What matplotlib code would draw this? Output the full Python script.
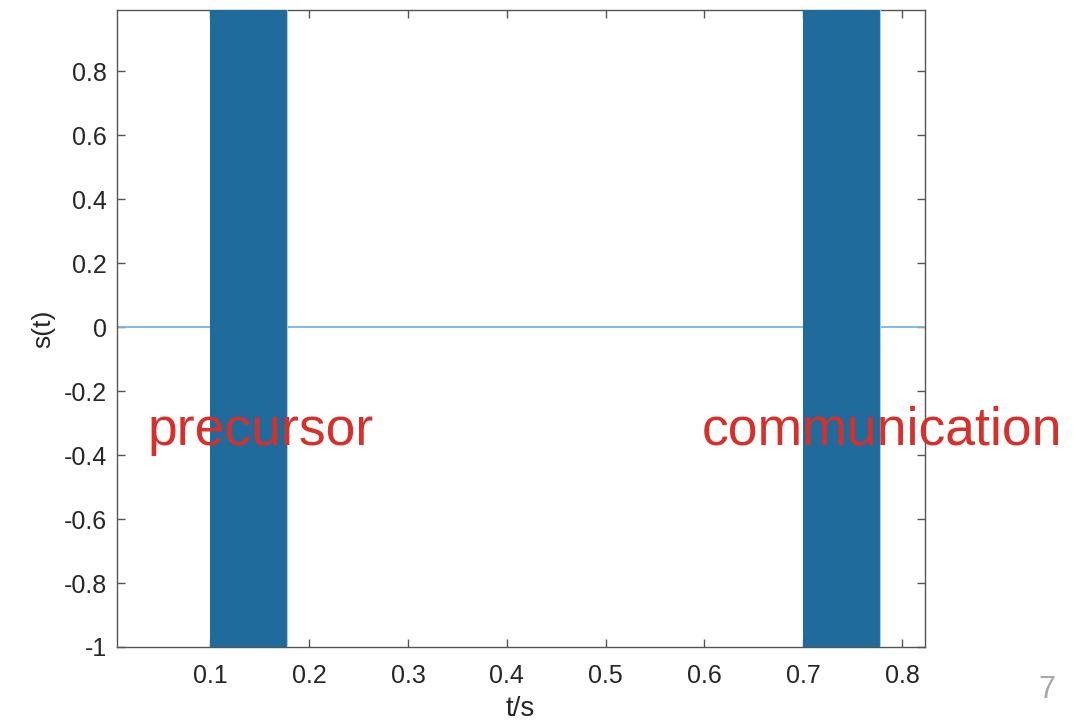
import matplotlib
matplotlib.use("Agg")
import matplotlib.pyplot as plt

plt.rcParams['font.family'] = ['Liberation Sans', 'DejaVu Sans']
plt.rcParams['axes.unicode_minus'] = False

# signal span and bursts
t_span = [0.005, 0.823]
burst_start = [0.1, 0.7]
burst_end = [0.178, 0.778]
burst_amp = [1.0, 1.0]

burst_names = ["precursor", "communication"]
name_x = [0.036, 0.597]
name_y = [-0.368, -0.368]

x_ticks = [0.1, 0.2, 0.3, 0.4, 0.5, 0.6, 0.7, 0.8]
x_ticklabels = ["0.1", "0.2", "0.3", "0.4", "0.5", "0.6", "0.7", "0.8"]
y_ticks = [-1, -0.8, -0.6, -0.4, -0.2, 0, 0.2, 0.4, 0.6, 0.8]
y_ticklabels = ["-1", "-0.8", "-0.6", "-0.4", "-0.2", "0", "0.2", "0.4", "0.6", "0.8"]
page_no = "7"

fig = plt.figure(figsize=(10.74, 7.22), dpi=100)
ax = fig.add_axes([0.1085, 0.1039, 0.7526, 0.8816])

# flat part of the signal
ax.plot(t_span, [0, 0], color='#7fb3dd', lw=1.3, zorder=2)

# dense oscillation bursts drawn as filled envelopes
for s, e, a in zip(burst_start, burst_end, burst_amp):
    ax.fill_between([s, e], [-a, -a], [a, a], color='#1f6b9c', lw=0, zorder=3)
    ax.plot([e, e], [-a, a], color='#a9c9e6', lw=0.8, zorder=3)

for name, x, y in zip(burst_names, name_x, name_y):
    ax.text(x, y, name, color='#d7302b', fontsize=38.5, ha='left', va='baseline',
            zorder=5, clip_on=False)

ax.set_xlim(t_span)
ax.set_ylim(-1, 0.99)
ax.set_xticks(x_ticks)
ax.set_xticklabels(x_ticklabels)
ax.set_yticks(y_ticks)
ax.set_yticklabels(y_ticklabels)

ax.tick_params(direction='in', length=6, width=1, colors='#555555',
               labelcolor='#262626', labelsize=18, top=True, right=True)
ax.tick_params(axis='x', pad=12)
ax.tick_params(axis='y', pad=7)
for sp in ax.spines.values():
    sp.set_color('#555555')
    sp.set_linewidth(1)

ax.set_xlabel("t/s", fontsize=20, color='#262626', labelpad=6)
ax.set_ylabel("s(t)", fontsize=19, color='#262626', labelpad=6)

fig.text(1047 / 1074, 1 - 698 / 722, page_no, color='#a8a8a8', fontsize=22,
         ha='center', va='baseline')

fig.savefig("out.png", dpi=100)
